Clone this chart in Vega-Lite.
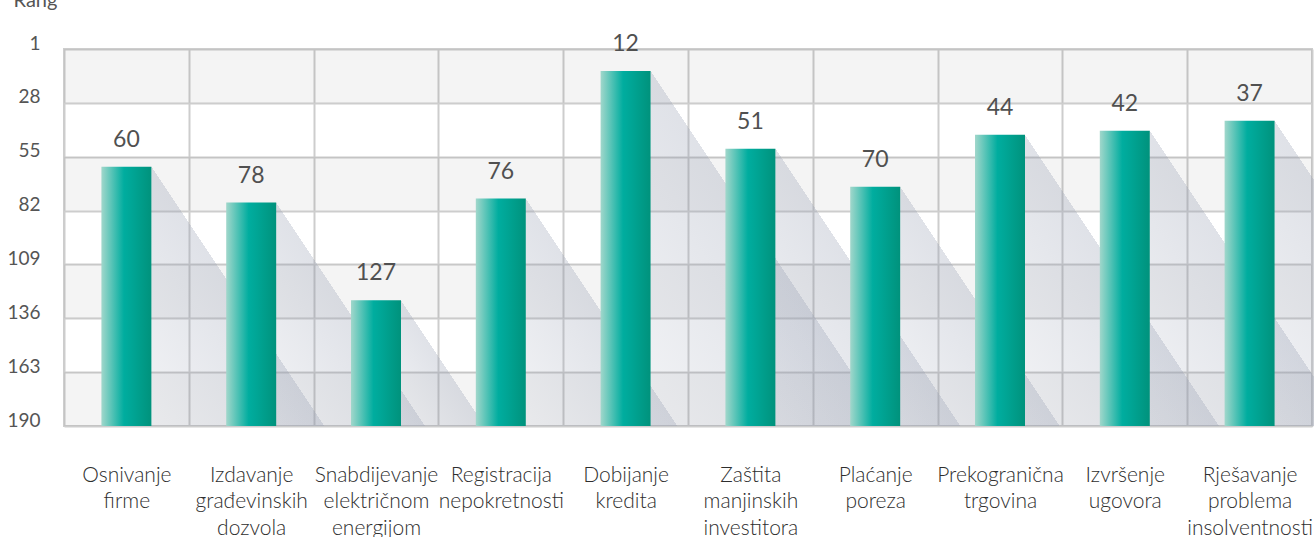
{
  "$schema": "https://vega.github.io/schema/vega-lite/v6.json",
  "width": 1248,
  "height": 377,
  "autosize": "none",
  "padding": {"left": 64, "top": 49, "right": 2, "bottom": 111},
  "background": "white",
  "config": {
    "font": "Lato",
    "view": {"stroke": "#cdcdcd", "strokeWidth": 2}
  },
  "data": {
    "values": [
      {"cat": "Osnivanje firme", "value": 60},
      {"cat": "Izdavanje građevinskih dozvola", "value": 78},
      {"cat": "Snabdijevanje električnom energijom", "value": 127},
      {"cat": "Registracija nepokretnosti", "value": 76},
      {"cat": "Dobijanje kredita", "value": 12},
      {"cat": "Zaštita manjinskih investitora", "value": 51},
      {"cat": "Plaćanje poreza", "value": 70},
      {"cat": "Prekogranična trgovina", "value": 44},
      {"cat": "Izvršenje ugovora", "value": 42},
      {"cat": "Rješavanje problema insolventnosti", "value": 37}
    ]
  },
  "layer": [
    {
      "data": {"values": [{"a": 1, "b": 28}, {"a": 55, "b": 82}, {"a": 109, "b": 136}, {"a": 163, "b": 190}]},
      "mark": {"type": "rect", "color": "rgba(0,0,0,0.045)"},
      "encoding": {
        "y": {"field": "a", "type": "quantitative", "title": "Rang",
              "scale": {"domain": [1, 190], "reverse": true, "nice": false, "zero": false}},
        "y2": {"field": "b"}
      }
    },
    {
      "mark": {
        "type": "bar",
        "fill": {
          "gradient": "linear", "x1": 1, "y1": 0, "x2": 0, "y2": 1,
          "stops": [
            {"offset": 0, "color": "rgba(150,158,178,0)"},
            {"offset": 0.5, "color": "rgba(150,158,178,0)"},
            {"offset": 0.5, "color": "rgba(150,158,178,0.3)"},
            {"offset": 1, "color": "rgba(150,158,178,0.12)"}
          ]
        }
      },
      "encoding": {
        "x": {"field": "cat", "type": "nominal", "sort": null, "title": null},
        "y": {"field": "value", "type": "quantitative", "title": "Rang"},
        "y2": {"datum": 190},
        "size": {"field": "value", "type": "quantitative", "legend": null,
                 "scale": {"domain": [190, 1], "range": [0, 251.3], "zero": false, "nice": false}},
        "xOffset": {"field": "value", "type": "quantitative",
                    "scale": {"domain": [190, 1], "range": [87.4, 213.05], "zero": false, "nice": false}}
      }
    },
    {
      "mark": {
        "type": "bar",
        "width": 50,
        "fill": {
          "gradient": "linear", "x1": 0, "y1": 0, "x2": 1, "y2": 0,
          "stops": [
            {"offset": 0, "color": "#a1d7cb"},
            {"offset": 0.45, "color": "#00ad9f"},
            {"offset": 0.6, "color": "#00a696"},
            {"offset": 1, "color": "#00927c"}
          ]
        }
      },
      "encoding": {
        "x": {
          "field": "cat", "type": "nominal", "sort": null, "title": null,
          "scale": {"paddingInner": 0, "paddingOuter": 0},
          "axis": {
            "title": null,
            "labelExpr": "isValid(datum.value) ? split(datum.value, ' ') : ''",
            "labelAngle": 0,
            "labelAlign": "center",
            "labelFontSize": 21,
            "labelFontWeight": 300,
            "labelLineHeight": 26.5,
            "labelColor": "#2e2e2e",
            "labelBaseline": "alphabetic",
            "labelPadding": 55,
            "labelOverlap": false,
            "ticks": false,
            "domain": false,
            "grid": true,
            "gridColor": "#cdcdcd",
            "gridWidth": 2,
            "tickBand": "extent"
          }
        },
        "y": {
          "field": "value", "type": "quantitative", "title": "Rang",
          "scale": {"domain": [1, 190], "reverse": true, "nice": false, "zero": false},
          "axis": {
            "values": [1, 28, 55, 82, 109, 136, 163, 190],
            "title": "Rang",
            "titleAngle": 0,
            "titleAlign": "left",
            "titleBaseline": "alphabetic",
            "titleX": -51,
            "titleY": -43,
            "titleFontSize": 20,
            "titleFontWeight": "normal",
            "titleColor": "#555555",
            "labelFontSize": 19,
            "labelColor": "#555555",
            "labelBaseline": "alphabetic",
            "labelFlush": false,
            "labelPadding": 24,
            "ticks": false,
            "domain": false,
            "grid": true,
            "gridColor": "#cdcdcd",
            "gridWidth": 2
          }
        },
        "y2": {"datum": 190}
      }
    },
    {
      "mark": {"type": "text", "fontSize": 23, "color": "#505050", "baseline": "alphabetic", "dy": -20},
      "encoding": {
        "x": {"field": "cat", "type": "nominal", "sort": null, "title": null},
        "y": {"field": "value", "type": "quantitative", "title": "Rang"},
        "text": {"field": "value", "type": "quantitative"}
      }
    }
  ]
}
